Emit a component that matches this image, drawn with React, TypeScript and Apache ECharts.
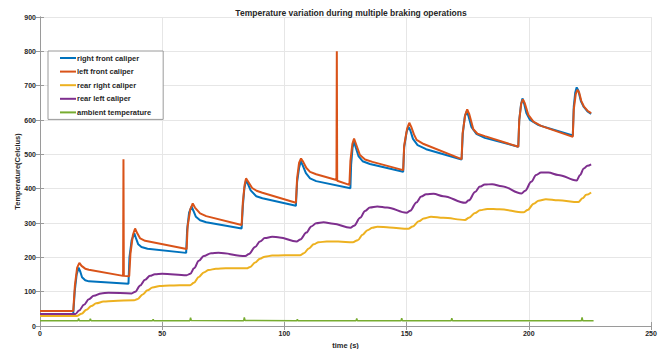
import React, { useEffect, useRef } from "react";
import * as echarts from "echarts";

const titleText = "Temperature variation during multiple braking operations";
const xName = "time (s)";
const yName = "Temperature(Celcius)";
const seriesNames = [
  "right front caliper",
  "left front caliper",
  "rear right caliper",
  "rear left caliper",
  "ambient temperature",
];
const seriesColors = ["#0072BD", "#D95319", "#EDB120", "#7E2F8E", "#77AC30"];

const rightFront: number[][] = [
  [0, 35], [13.6, 35], [14.2, 100], [15, 150], [15.8, 170], [16.5, 158], [17.2, 142], [18.5, 133], [20, 130], [36.2, 123],
  [36.6, 200], [37.5, 250], [38.6, 270], [39.3, 255], [40.2, 238], [41.5, 230], [44, 225], [59.8, 213],
  [60.2, 280], [61, 330], [62, 348], [62.8, 335], [63.8, 318], [65.5, 308], [68, 302], [82.5, 284],
  [83, 350], [83.6, 400], [84.3, 425], [85, 415], [86.2, 395], [88.5, 378], [91, 372], [104.7, 350],
  [105.2, 420], [106, 460], [106.7, 480], [107.5, 468], [108.8, 445], [110.5, 430], [113, 422], [127, 401],
  [127.3, 470], [127.9, 520], [128.5, 537], [129.2, 520], [130.3, 495], [132, 480], [135, 472], [148.6, 449],
  [149, 520], [150, 565], [150.8, 580], [151.5, 570], [152.6, 545], [154.5, 527], [158, 515], [172.5, 485],
  [173, 560], [173.8, 610], [174.6, 625], [175.3, 612], [176.5, 580], [178.5, 560], [182, 548], [195.7, 522],
  [196.1, 600], [196.8, 645], [197.4, 663], [198, 650], [199, 620], [200.5, 600], [204, 585], [218, 555],
  [218.4, 640], [219, 680], [219.6, 695], [220.3, 685], [221.3, 655], [222.5, 638], [224, 625], [225.5, 618],
];

const leftFront: number[][] = [
  [0, 44], [13.6, 44], [14.3, 120], [15.2, 170], [16.1, 184], [17, 175], [18.5, 167], [20, 164], [34, 146], [34.15, 486], [34.3, 146], [36.5, 145],
  [37, 210], [38, 265], [38.9, 284], [39.8, 270], [41, 255], [43, 248], [60, 224],
  [60.4, 290], [61.5, 340], [62.5, 357], [63.4, 345], [65.5, 328], [68, 320], [82.5, 294],
  [83, 360], [83.7, 410], [84.3, 430], [85.2, 420], [86.8, 402], [88.6, 394], [91, 388], [104.7, 359],
  [105.2, 430], [106, 475], [106.8, 488], [107.7, 478], [109, 460], [110.5, 449], [113, 442], [121.3, 425], [121.45, 800], [121.6, 423], [126.6, 411],
  [127, 480], [127.8, 530], [128.5, 546], [129.3, 530], [130.9, 498], [133, 485], [136, 478], [148.6, 454],
  [149, 525], [150.2, 575], [151.1, 592], [151.9, 580], [153, 558], [154.1, 542], [157, 530], [172.5, 486],
  [172.9, 560], [174, 615], [174.8, 631], [175.6, 618], [177.3, 573], [179, 560], [182, 553], [195.7, 522],
  [196.1, 600], [196.9, 648], [197.6, 660], [198.3, 650], [199.8, 615], [201.9, 595], [205, 583], [218, 551],
  [218.4, 630], [219.2, 675], [219.9, 688], [220.6, 680], [221.5, 655], [222.5, 640], [224, 627], [225.5, 620],
];

const rearRight: number[][] = [
  [0, 29], [15, 29], [17, 36], [19, 47], [21, 58], [23, 66], [26, 71], [30, 73], [38.5, 75],
  [40, 79], [42, 92], [44, 104], [46, 112], [49, 116.5], [53, 118], [61.4, 119],
  [63, 126], [65, 143], [67, 156], [69, 163], [72, 167], [76, 168], [84.6, 168],
  [86, 172], [88, 185], [90, 196], [92, 202], [95, 205], [100, 206], [106.4, 206],
  [108, 212], [110, 226], [112, 238], [114, 244], [117.3, 246], [122, 246], [128, 244],
  [130, 250], [132, 266], [134, 279], [136, 286], [138, 289], [143, 287], [150.7, 283],
  [152.5, 290], [155, 305], [157, 313], [160, 318], [165, 315], [173.9, 309],
  [175.5, 315], [178, 329], [180, 337], [183, 341], [188, 340], [197.8, 331],
  [199.5, 338], [202, 356], [204, 365], [207, 369], [212, 366], [220.3, 361],
  [222, 372], [223.5, 382], [225.5, 389],
];

const rearLeft: number[][] = [
  [0, 35], [14.5, 35], [16, 45], [18, 62], [20, 78], [22, 88], [25, 95], [28, 97], [37.5, 95],
  [39, 100], [41, 118], [43, 135], [45, 146], [47, 151], [50, 152], [60, 148],
  [61.5, 152], [63, 168], [65, 190], [67, 204], [70, 212], [73, 213], [84, 204],
  [85.5, 210], [88, 230], [90, 246], [92, 256], [95, 260], [98, 258], [105, 246],
  [106.5, 252], [109, 272], [111, 290], [113, 299], [116, 302], [120, 298], [127, 286],
  [128.5, 292], [131, 315], [133, 335], [135, 345], [138, 348], [142, 345], [150, 330],
  [151.5, 336], [154, 360], [156, 377], [158, 384], [161, 385], [165, 378], [174, 359],
  [175.5, 366], [178, 390], [180, 406], [182, 412], [185, 413], [189, 407], [197, 386],
  [198.5, 394], [201, 420], [203, 440], [205, 447], [208, 447], [212, 440], [219.6, 424],
  [221, 440], [222.5, 459], [224, 467], [225.5, 471],
];

const ambient: number[][] = [
  [0, 15], [15.5, 15], [15.8, 22], [16.1, 15], [20.3, 15], [20.6, 21], [20.9, 15], [46, 15.5], [46.3, 19], [46.6, 15],
  [61.3, 15], [61.6, 24], [61.9, 16], [83.3, 15], [83.6, 25], [83.9, 16], [105, 15], [105.3, 19], [105.6, 15],
  [129.3, 15], [129.6, 22], [129.9, 15], [147.7, 15], [148, 23], [148.3, 15], [168.2, 15], [168.5, 23], [168.8, 15],
  [221.5, 15], [221.8, 25], [222.1, 15], [226.5, 15],
];

const xMin = 0, xMax = 250, xStep = 50;
const yMin = 0, yMax = 900, yStep = 100;

const FONT = "'Liberation Sans', Arial, Helvetica, sans-serif";
const TXT = "#262626";
const BOX = "#9a9a9a";
const GRIDC = "#e6e6e6";

export default function App() {
  const ref = useRef<HTMLDivElement>(null);
  useEffect(() => {
    if (!ref.current) return;
    const chart = echarts.init(ref.current, undefined, { renderer: "svg" });
    const datasets = [rightFront, leftFront, rearRight, rearLeft, ambient];
    const axisCommon = {
      axisLine: { show: true, lineStyle: { color: BOX, width: 1 } },
      axisTick: { show: true, inside: true, length: 4, lineStyle: { color: BOX } },
    };
    chart.setOption({
      animation: false,
      backgroundColor: "#ffffff",
      textStyle: { fontFamily: FONT },
      title: {
        text: titleText,
        left: 346,
        top: 3,
        textAlign: "center",
        textStyle: { fontFamily: FONT, fontSize: 8.5, fontWeight: "bold", color: TXT },
      },
      legend: {
        data: seriesNames,
        orient: "vertical",
        left: 48,
        top: 51,
        padding: [3, 12, 3, 12],
        itemGap: 5.6,
        itemWidth: 16,
        itemHeight: 2,
        icon: "rect",
        borderColor: "#9a9a9a",
        borderWidth: 1,
        backgroundColor: "#ffffff",
        textStyle: { fontFamily: FONT, fontSize: 7.5, fontWeight: "bold", color: TXT, padding: [0, 0, 0, -4] },
      },
      grid: { left: 40, right: 14, top: 17, bottom: 23, containLabel: false, outerBoundsMode: "none" },
      xAxis: [
        {
          type: "value",
          min: xMin,
          max: xMax,
          interval: xStep,
          name: xName,
          nameLocation: "middle",
          nameGap: 15,
          nameMoveOverlap: false,
          nameTextStyle: { fontFamily: FONT, fontSize: 7.5, fontWeight: "bold", color: TXT },
          ...axisCommon,
          axisLabel: { margin: 4, fontFamily: FONT, fontSize: 7, fontWeight: "bold", color: TXT },
          splitLine: { show: true, lineStyle: { color: GRIDC, width: 1 } },
        },
        {
          type: "value",
          position: "top",
          min: xMin,
          max: xMax,
          interval: xStep,
          ...axisCommon,
          axisLabel: { show: false },
          splitLine: { show: false },
        },
      ],
      yAxis: [
        {
          type: "value",
          min: yMin,
          max: yMax,
          interval: yStep,
          name: yName,
          nameLocation: "middle",
          nameGap: 19,
          nameMoveOverlap: false,
          nameTextStyle: { fontFamily: FONT, fontSize: 7.5, fontWeight: "bold", color: TXT },
          ...axisCommon,
          axisLabel: { margin: 4, fontFamily: FONT, fontSize: 7, fontWeight: "bold", color: TXT },
          splitLine: { show: true, lineStyle: { color: GRIDC, width: 1 } },
        },
        {
          type: "value",
          position: "right",
          min: yMin,
          max: yMax,
          interval: yStep,
          ...axisCommon,
          axisLabel: { show: false },
          splitLine: { show: false },
        },
      ],
      series: datasets.map((d, i) => ({
        name: seriesNames[i],
        type: "line",
        data: d,
        showSymbol: false,
        symbol: "none",
        smooth: i === 2 || i === 3 ? 0.35 : false,
        smoothMonotone: "x",
        lineStyle: { color: seriesColors[i], width: i === 4 ? 1.5 : 2 },
        itemStyle: { color: seriesColors[i] },
        z: 2 + i,
      })),
    });
    return () => chart.dispose();
  }, []);
  return (
    <div
      ref={ref}
      style={{ position: "fixed", left: 0, top: 0, width: 665, height: 349 }}
    />
  );
}
